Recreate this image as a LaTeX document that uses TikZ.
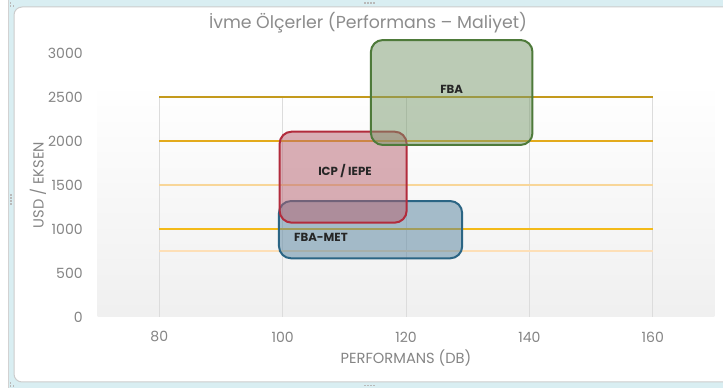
\documentclass[tikz,border=0pt]{standalone}
\usepackage{fontspec}
\setmainfont{Poppins}
\usetikzlibrary{positioning,calc}

\definecolor{framecyan}{HTML}{D9EEF2}
\definecolor{axisgray}{HTML}{858585}
\definecolor{titlegray}{HTML}{8C8C8C}
\definecolor{gridgray}{HTML}{DCDCDC}
\definecolor{goldA}{HTML}{C49A1C}
\definecolor{goldB}{HTML}{E3AA1B}
\definecolor{goldC}{HTML}{F8D699}
\definecolor{goldD}{HTML}{F3BA19}
\definecolor{goldE}{HTML}{FDDFB7}
\definecolor{fbaFill}{HTML}{78996C}
\definecolor{fbaLine}{HTML}{4E7A3A}
\definecolor{icpFill}{HTML}{B7616F}
\definecolor{icpLine}{HTML}{B22B3C}
\definecolor{metFill}{HTML}{53819D}
\definecolor{metLine}{HTML}{2B6584}

\tikzset{
  zone/.style={rounded corners=0.36cm, line width=0.06cm, draw=#1},
  zonelabel/.style={font=\fontsize{10}{11}\selectfont\bfseries, text=black!85},
  ticklabel/.style={font=\fontsize{12}{13}\selectfont, text=axisgray, inner sep=1pt},
  axistitle/.style={font=\fontsize{12.5}{13}\selectfont, text=axisgray},
  level/.style={line width=0.035cm, draw=#1},
  grid line/.style={line width=0.03cm, draw=gridgray},
  handle/.style={fill=gray!55},
}

\begin{document}
\begin{tikzpicture}[x=0.03cm, y=0.03cm]
\useasboundingbox (0,0) rectangle (723,392);

% -------------------- window frame --------------------
\fill[framecyan] (8,4) rectangle (723,392);
\draw[gray!35, line width=0.02cm] (8,4) -- (8,392);
\filldraw[fill=white, draw=gray!40, line width=0.03cm, rounded corners=0.24cm]
  (740,10) -- (14,10) -- (14,385) -- (740,385);
\foreach \i in {0,...,3} {
  \fill[handle] (364+\i*3,388) rectangle ++(1.6,1.6);
  \fill[handle] (364+\i*3,5.5) rectangle ++(1.6,1.6);
  \fill[handle] (10,196-\i*3) rectangle ++(1.6,1.6);
}
\foreach \dx/\dy in {0/0,3/0,0/3} {
  \fill[handle] (9.5+\dx,385+\dy) rectangle ++(1.6,1.6);
  \fill[handle] (9.5+\dx,5+\dy) rectangle ++(1.6,1.6);
}

% -------------------- title and axis titles --------------------
\node[font=\fontsize{14.8}{16}\selectfont, text=titlegray] (title) at (368,369)
  {İvme Ölçerler (Performans – Maliyet)};
\node[axistitle, rotate=90] (ytitle) at (38,207) {USD / EKSEN};
\node[axistitle] (xtitle) at (406,34) {PERFORMANS (DB)};

% -------------------- plot area (data coordinates) --------------------
\begin{scope}[shift={(-334.1,75)}, x=0.185025cm, y=0.00264cm]
  \shade[top color=white, bottom color=gray!12] (70,0) rectangle (170,2660);

  % vertical grid
  \foreach \v in {80,100,...,160}
    \draw[grid line] (\v,0) -- (\v,2500);

  % price levels
  \draw[level=goldE] (80,750) -- (160,750);
  \draw[level=goldD] (80,1000) -- (160,1000);
  \draw[level=goldC] (80,1500) -- (160,1500);
  \draw[level=goldB] (80,2000) -- (160,2000);
  \draw[level=goldA] (80,2500) -- (160,2500);

  % ticks
  \foreach \w in {0,500,...,3000}
    \node[ticklabel, anchor=east] (ytick\w) at (67.8,\w) {\w};
  \foreach \v in {80,100,...,160}
    \node[ticklabel] (xtick\v) at (\v,-227) {\v};

  % sensor ranges
  \draw[zone=metLine, fill=metFill, fill opacity=0.5] (99.4,667) rectangle (129.1,1318);
  \draw[zone=icpLine, fill=icpFill, fill opacity=0.5] (99.5,1072) rectangle (120.1,2106);
  \draw[zone=fbaLine, fill=fbaFill, fill opacity=0.5] (114.3,1955) rectangle (140.5,3148);

  \node[zonelabel] (fba) at (127.4,2587) {FBA};
  \node[zonelabel] (icp) at (110.1,1662) {ICP / IEPE};
  \node[zonelabel] (met) at (106.2,901) {FBA-MET};
\end{scope}

\end{tikzpicture}
\end{document}
